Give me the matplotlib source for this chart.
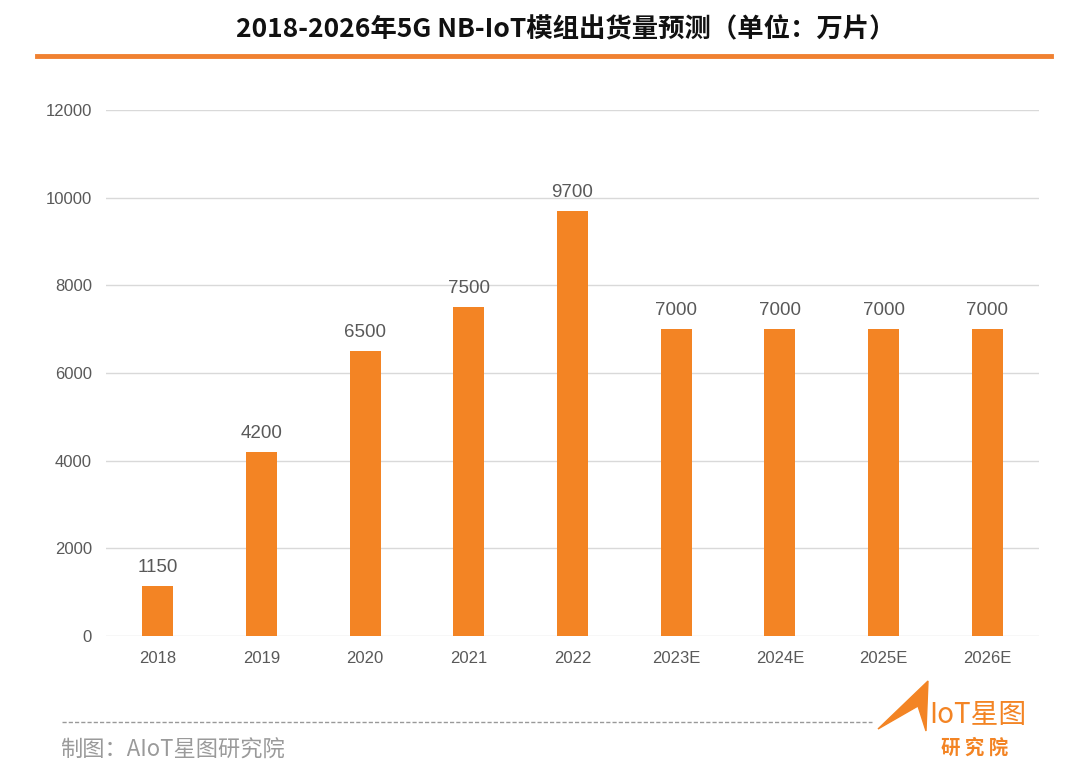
import matplotlib
matplotlib.use("Agg")
import matplotlib.pyplot as plt
from matplotlib.patches import Polygon
from matplotlib.lines import Line2D

plt.rcParams['font.family'] = ['Noto Sans CJK SC', 'DejaVu Sans']

categories = ["2018", "2019", "2020", "2021", "2022", "2023E", "2024E", "2025E", "2026E"]
values = [1150, 4200, 6500, 7500, 9700, 7000, 7000, 7000, 7000]
yticks = [0, 2000, 4000, 6000, 8000, 10000, 12000]

orange = "#F38424"
W, H = 1080, 774
fig = plt.figure(figsize=(W / 100, H / 100), dpi=100)
fig.patch.set_facecolor("white")

def fx(px):
    return px / W

def fy(py):
    return 1 - py / H

ax = fig.add_axes([fx(106), fy(636), fx(1039) - fx(106), fy(110) - fy(636)])
x = list(range(len(categories)))
bars = ax.bar(x, values, width=0.3, color=orange, zorder=3)
for xi, v in zip(x, values):
    ax.text(xi, v + 230, f"{v}", ha="center", va="bottom", fontsize=13.5,
            color="#595959", family=["Liberation Sans", "DejaVu Sans"])

ax.set_xlim(-0.5, len(categories) - 0.5)
ax.set_ylim(0, 12000)
ax.set_yticks(yticks)
ax.set_yticklabels([str(t) for t in yticks], family=["Liberation Sans", "DejaVu Sans"])
ax.set_xticks(x)
ax.set_xticklabels(categories, family=["Liberation Sans", "DejaVu Sans"])
ax.tick_params(axis="both", length=0, labelsize=12, colors="#595959")
ax.tick_params(axis="y", pad=10)
ax.tick_params(axis="x", pad=11)
ax.grid(axis="y", color="#D9D9D9", linewidth=1, zorder=0)
for s in ax.spines.values():
    s.set_visible(False)

# Title
fig.text(fx(566), fy(30), "2018-2026年5G NB-IoT模组出货量预测（单位：万片）",
         ha="center", va="center", fontsize=19, fontweight="bold", color="#111111")
# Orange rule
fig.add_artist(Line2D([fx(37), fx(1051)], [fy(56), fy(56)], color="#F08131",
                      linewidth=3.5, transform=fig.transFigure))

# Dashed footer line
fig.add_artist(Line2D([fx(62), fx(872)], [fy(722), fy(722)], color="#999999",
                      linewidth=1, linestyle=(0, (3, 1.5)), transform=fig.transFigure))
fig.text(fx(60), fy(750), "制图：AIoT星图研究院", ha="left", va="center",
         fontsize=16, color="#9A9A9A")

# Logo
tri = Polygon([[fx(878), fy(729)], [fx(928), fy(681)], [fx(926), fy(731)], [fx(918), fy(706)]],
              closed=True, transform=fig.transFigure, color="#F38424")
fig.add_artist(tri)
fig.text(fx(929), fy(715), "IoT星图", ha="left", va="center", fontsize=20,
         color=orange, family=["Noto Sans CJK SC", "DejaVu Sans"])
fig.text(fx(975), fy(748), "研 究 院", ha="center", va="center", fontsize=14,
         color=orange, fontweight="bold")

fig.savefig("out.png", dpi=100, facecolor="white")
